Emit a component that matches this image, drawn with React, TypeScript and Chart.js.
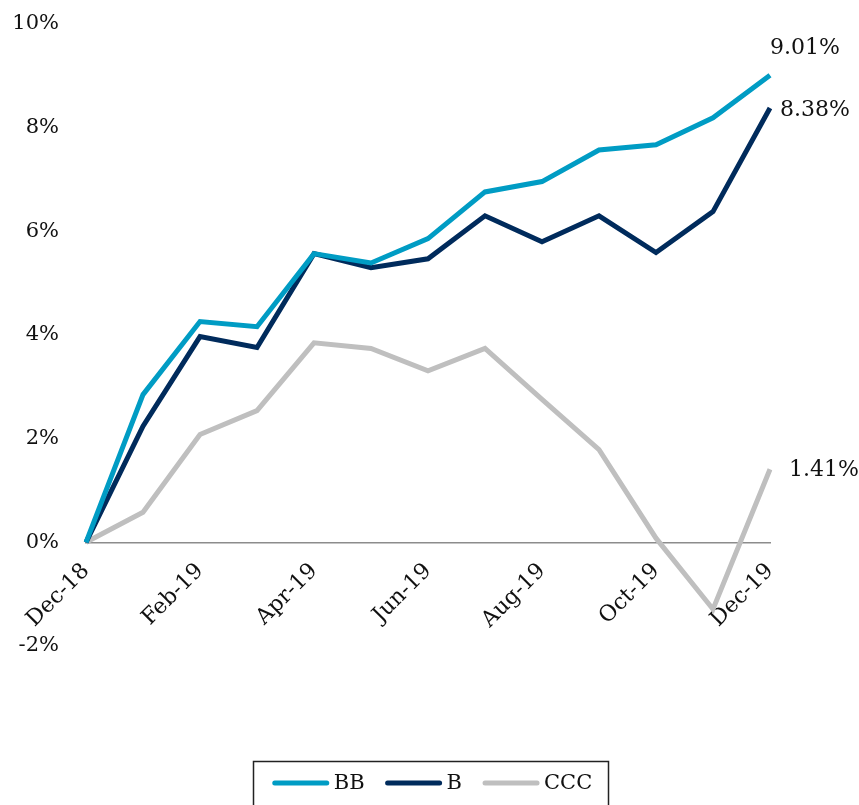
import React, { useEffect, useRef } from 'react';
import { Chart, registerables } from 'chart.js';

Chart.register(...registerables);

const months = ['Dec-18', 'Jan-19', 'Feb-19', 'Mar-19', 'Apr-19', 'May-19', 'Jun-19', 'Jul-19', 'Aug-19', 'Sep-19', 'Oct-19', 'Nov-19', 'Dec-19'];
const bbValues = [0, 2.85, 4.26, 4.16, 5.57, 5.39, 5.86, 6.76, 6.96, 7.57, 7.67, 8.19, 9.01];
const bValues = [0, 2.24, 3.97, 3.76, 5.57, 5.30, 5.47, 6.30, 5.80, 6.30, 5.59, 6.38, 8.38];
const cccValues = [0, 0.58, 2.08, 2.54, 3.85, 3.74, 3.31, 3.74, 2.76, 1.79, 0.08, -1.29, 1.41];
const seriesNames = ['BB', 'B', 'CCC'];
const seriesColors = ['#009CC4', '#002B5C', '#BFBFBF'];
const yMin = -2;
const yMax = 10;
const yStep = 2;

const FONT = '"DejaVu Serif", "Liberation Serif", serif';

const endLabels = {
  id: 'endLabels',
  afterDatasetsDraw(chart: any) {
    const ctx = chart.ctx;
    ctx.save();
    ctx.font = `22px ${FONT}`;
    ctx.fillStyle = '#111';
    ctx.textBaseline = 'middle';
    ctx.textAlign = 'left';
    const offsets = [[0, -27], [10, 2], [19, 1]];
    chart.data.datasets.forEach((ds: any, i: number) => {
      const meta = chart.getDatasetMeta(i);
      const pt = meta.data[meta.data.length - 1];
      const v = ds.data[ds.data.length - 1];
      ctx.fillText(v.toFixed(2) + '%', pt.x + offsets[i][0], pt.y + offsets[i][1]);
    });
    ctx.restore();
  },
};

const boxLegend = {
  id: 'boxLegend',
  afterDraw(chart: any) {
    const ctx = chart.ctx;
    ctx.save();
    const boxL = 253, boxR = 608, boxT = 761;
    ctx.strokeStyle = '#222';
    ctx.lineWidth = 1.5;
    ctx.strokeRect(boxL + 0.5, boxT + 0.5, boxR - boxL, 80);
    ctx.font = `21px ${FONT}`;
    ctx.textBaseline = 'middle';
    ctx.textAlign = 'left';
    const lineLen = 56, gapText = 5, gapItem = 21;
    const items = chart.data.datasets.map((ds: any) => ({ label: ds.label, color: ds.borderColor, w: ctx.measureText(ds.label).width }));
    const total = items.reduce((s: number, it: any) => s + lineLen + gapText + it.w, 0) + gapItem * (items.length - 1);
    let x = (boxL + boxR) / 2 - total / 2 + 2;
    const y = 783;
    items.forEach((it: any) => {
      ctx.strokeStyle = it.color;
      ctx.lineWidth = 5;
      ctx.lineCap = 'round';
      ctx.beginPath();
      ctx.moveTo(x + 2, y);
      ctx.lineTo(x + lineLen - 2, y);
      ctx.stroke();
      ctx.fillStyle = '#111';
      ctx.fillText(it.label, x + lineLen + gapText, y + 1);
      x += lineLen + gapText + it.w + gapItem;
    });
    ctx.restore();
  },
};

export default function App() {
  const ref = useRef<HTMLCanvasElement>(null);
  useEffect(() => {
    document.body.style.margin = '0';
    const canvas = ref.current!;
    const data = [bbValues, bValues, cccValues];
    const chart = new Chart(canvas, {
      type: 'line',
      data: {
        labels: months,
        datasets: seriesNames.map((name, i) => ({
          label: name,
          data: data[i],
          borderColor: seriesColors[i],
          backgroundColor: seriesColors[i],
          borderWidth: 5,
          pointRadius: 0,
          tension: 0,
          borderJoinStyle: 'miter' as const,
        })),
      },
      options: {
        responsive: false,
        animation: false,
        devicePixelRatio: 1,
        layout: { padding: { top: 24, right: 89, bottom: 159, left: 0 } },
        plugins: { legend: { display: false }, tooltip: { enabled: false } },
        scales: {
          x: {
            position: { y: 0 },
            offset: false,
            grid: { display: false, drawTicks: false },
            border: { display: true, color: '#8c8c8c', width: 1.5 },
            ticks: {
              autoSkip: false,
              maxRotation: 45,
              minRotation: 45,
              padding: 16,
              color: '#111',
              font: { family: FONT, size: 22 },
              callback: (_v: any, i: number) => (i % 2 === 0 ? months[i] : ''),
            },
          },
          y: {
            min: yMin,
            max: yMax,
            grid: { display: false, drawTicks: false },
            border: { display: false },
            afterFit: (s: any) => { s.width = 86; s.paddingTop = 0; s.paddingBottom = 0; },
            ticks: {
              stepSize: yStep,
              padding: 27,
              color: '#111',
              font: { family: FONT, size: 21 },
              callback: (v: any) => v + '%',
            },
          },
        },
      },
      plugins: [endLabels, boxLegend],
    });
    return () => chart.destroy();
  }, []);
  return <canvas ref={ref} width={859} height={805} style={{ display: 'block' }} />;
}
